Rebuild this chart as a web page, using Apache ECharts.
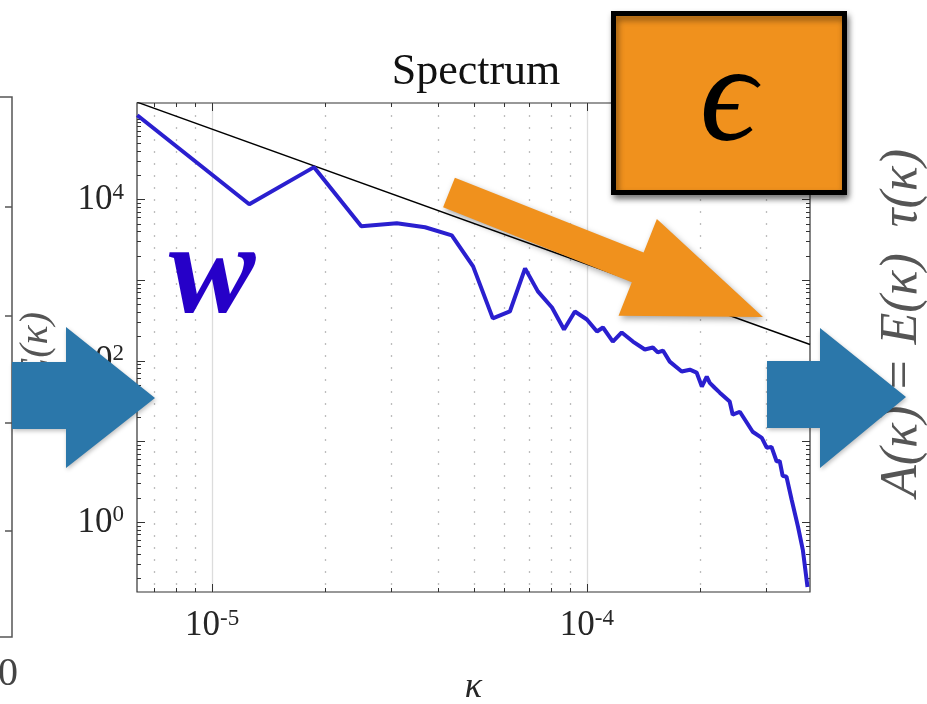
<!DOCTYPE html>
<html>
<head>
<meta charset="utf-8">
<title>Spectrum</title>
<script src="https://cdn.jsdelivr.net/npm/echarts@6/dist/echarts.min.js"></script>
<style>
  html, body { margin: 0; padding: 0; background: #fff; }
  #chart { width: 927px; height: 704px; }
</style>
</head>
<body>
<div id="chart"></div>
<script>
// wavenumber / energy
const kappa = [6.31e-6, 1.256e-5, 1.87e-5, 2.50e-5, 3.11e-5, 3.70e-5, 4.36e-5, 4.97e-5,
  5.61e-5, 6.23e-5, 6.84e-5, 7.40e-5, 8.07e-5, 8.69e-5, 9.29e-5, 1.0e-4, 1.064e-4,
  1.104e-4, 1.173e-4, 1.239e-4, 1.327e-4, 1.428e-4, 1.50e-4, 1.546e-4, 1.596e-4,
  1.664e-4, 1.791e-4, 1.883e-4, 1.963e-4, 2.027e-4, 2.089e-4, 2.128e-4, 2.193e-4,
  2.263e-4, 2.405e-4, 2.45e-4, 2.56e-4, 2.77e-4, 2.93e-4, 3.02e-4, 3.11e-4, 3.21e-4,
  3.27e-4, 3.33e-4, 3.41e-4, 3.52e-4, 3.66e-4, 3.77e-4, 3.88e-4];
const energy = [1.10e5, 8670, 2.5e4, 4620, 5030, 4490, 3570, 1470,
  333, 406, 1390, 720, 455, 243, 406, 323, 229,
  257, 172, 223, 172, 137, 145, 126, 133,
  97, 73, 77, 71, 47.5, 63, 53, 46,
  40, 31, 21.3, 23.2, 13.1, 11.0, 8.3, 8.5, 5.6,
  5.7, 3.73, 3.62, 1.88, 0.87, 0.45, 0.156];

// black reference slope (end points)
const refKappa = [6.3e-6, 3.94e-4];
const refEnergy = [1.6e5, 158];

// axis ranges and ticks
const xRange = [6.3e-6, 3.94e-4];
const yRange = [0.135, 1.56e5];
const xMajor = [1e-5, 1e-4];
const xMinor = [7e-6, 8e-6, 9e-6, 2e-5, 3e-5, 4e-5, 5e-5, 6e-5, 7e-5, 8e-5, 9e-5, 2e-4, 3e-4];
const yMajor = [1, 10, 100, 1e3, 1e4, 1e5];
const yMinor = [0.2, 0.3, 0.4, 0.5, 0.6, 0.7, 0.8, 0.9,
  2, 3, 4, 5, 6, 7, 8, 9, 20, 30, 40, 50, 60, 70, 80, 90,
  200, 300, 400, 500, 600, 700, 800, 900, 2e3, 3e3, 4e3, 5e3, 6e3, 7e3, 8e3, 9e3,
  2e4, 3e4, 4e4, 5e4, 6e4, 7e4, 8e4, 9e4];

const SERIF = '"Liberation Serif", "DejaVu Serif", serif';
const AXIS = '#333';

const chart = echarts.init(document.getElementById('chart'), null, {renderer: 'canvas'});

function powLabel(v, evenOnly) {
  const lg = Math.log10(v);
  const e = Math.round(lg);
  if (Math.abs(lg - e) > 1e-6) return '';
  if (evenOnly && e % 2 !== 0) return '';
  return '{b|10}{s|' + e + '}';
}

const richLabel = {
  b: {fontFamily: SERIF, fontSize: 35, color: '#262626', verticalAlign: 'bottom', lineHeight: 36},
  s: {fontFamily: SERIF, fontSize: 23, color: '#262626', verticalAlign: 'top', lineHeight: 22}
};

// x ticks: dotted grid + inward ticks on bottom and top
function xTickSeries(values, len, gridStyle) {
  return {
    type: 'custom',
    silent: true,
    clip: false,
    z: 1,
    data: values.map(v => [v, yRange[0]]),
    renderItem(params, api) {
      const cs = params.coordSys;
      const x = Math.round(api.coord([api.value(0), yRange[0]])[0]) + 0.5;
      const b = cs.y + cs.height;
      return {
        type: 'group',
        children: [
          {type: 'line', shape: {x1: x, y1: cs.y, x2: x, y2: b}, style: gridStyle},
          {type: 'line', shape: {x1: x, y1: b, x2: x, y2: b - len}, style: {stroke: AXIS, lineWidth: 1}},
          {type: 'line', shape: {x1: x, y1: cs.y, x2: x, y2: cs.y + len}, style: {stroke: AXIS, lineWidth: 1}}
        ]
      };
    }
  };
}

// y ticks: inward ticks on left and right
function yTickSeries(values, len) {
  return {
    type: 'custom',
    silent: true,
    clip: false,
    z: 1,
    data: values.map(v => [xRange[0], v]),
    renderItem(params, api) {
      const cs = params.coordSys;
      const y = Math.round(api.coord([xRange[0], api.value(1)])[1]) + 0.5;
      const r = cs.x + cs.width;
      return {
        type: 'group',
        children: [
          {type: 'line', shape: {x1: cs.x, y1: y, x2: cs.x + len, y2: y}, style: {stroke: AXIS, lineWidth: 1}},
          {type: 'line', shape: {x1: r, y1: y, x2: r - len, y2: y}, style: {stroke: AXIS, lineWidth: 1}}
        ]
      };
    }
  };
}

// orange arrow geometry (tail middle -> tip)
const tail = [449, 192.5], tip = [763, 317];
const len = Math.hypot(tip[0] - tail[0], tip[1] - tail[1]);
const d = [(tip[0] - tail[0]) / len, (tip[1] - tail[1]) / len];
const n = [-d[1], d[0]];
const sb = 203, hw = 16, HW = 52;
const base = [tail[0] + sb * d[0], tail[1] + sb * d[1]];
const orangePts = [
  [tail[0] - hw * n[0], tail[1] - hw * n[1]],
  [base[0] - hw * n[0], base[1] - hw * n[1]],
  [base[0] - HW * n[0], base[1] - HW * n[1]],
  tip,
  [base[0] + HW * n[0], base[1] + HW * n[1]],
  [base[0] + hw * n[0], base[1] + hw * n[1]],
  [tail[0] + hw * n[0], tail[1] + hw * n[1]]
];

const BLUE_ARROW = '#2b77aa';
const ORANGE = '#f0911d';

const option = {
  backgroundColor: '#fff',
  animation: false,
  title: {
    text: 'Spectrum',
    left: 471,
    top: 45,
    textAlign: 'center',
    textStyle: {fontFamily: SERIF, fontSize: 44, fontWeight: 'normal', color: '#111'}
  },
  grid: {
    left: 137, top: 103, width: 673, height: 489,
    outerBoundsMode: 'none',
    containLabel: false,
    show: true, borderColor: AXIS, borderWidth: 1.2, backgroundColor: 'transparent'
  },
  xAxis: {
    type: 'log',
    logBase: 10,
    min: xRange[0],
    max: xRange[1],
    name: 'κ',
    nameLocation: 'middle',
    nameGap: 78,
    nameTextStyle: {fontFamily: SERIF, fontStyle: 'italic', fontSize: 36, color: '#262626'},
    axisLine: {show: false},
    axisTick: {show: false},
    splitLine: {show: false},
    minorTick: {show: false},
    axisLabel: {
      margin: 15,
      formatter: v => powLabel(v, false),
      rich: richLabel
    }
  },
  yAxis: {
    type: 'log',
    logBase: 10,
    min: yRange[0],
    max: yRange[1],
    axisLine: {show: false},
    axisTick: {show: false},
    splitLine: {show: false},
    minorTick: {show: false},
    axisLabel: {
      margin: 13,
      formatter: v => powLabel(v, true),
      rich: richLabel
    }
  },
  series: [
    xTickSeries(xMinor, 4, {stroke: '#bdbdbd', lineWidth: 1.3, lineDash: [2, 10]}),
    xTickSeries(xMajor, 8, {stroke: '#dcdcdc', lineWidth: 1.3}),
    yTickSeries(yMinor, 4),
    yTickSeries(yMajor, 8),
    {
      name: 'reference',
      type: 'line',
      data: refKappa.map((k, i) => [k, refEnergy[i]]),
      symbol: 'none',
      z: 3,
      lineStyle: {color: '#000', width: 1.4}
    },
    {
      name: 'E',
      type: 'line',
      data: kappa.map((k, i) => [k, energy[i]]),
      symbol: 'none',
      z: 4,
      lineStyle: {color: '#2a1fcf', width: 4}
    }
  ],
  graphic: [
    // partial neighbour panel on the left
    {
      type: 'polyline', z: 1, silent: true,
      shape: {points: [[0, 97], [12, 97], [12, 637], [0, 637]]},
      style: {stroke: '#555', lineWidth: 1.5, fill: null}
    },
    ...[207, 316, 423, 531].map(y => ({
      type: 'line', z: 1, silent: true,
      shape: {x1: 12, y1: y, x2: 5, y2: y},
      style: {stroke: '#555', lineWidth: 1.5}
    })),
    {
      type: 'text', z: 1, silent: true, x: 36, y: 347, rotation: Math.PI / 2,
      style: {text: 'E(κ)', fontFamily: SERIF, fontStyle: 'italic', fontSize: 40, fill: '#555',
        align: 'center', verticalAlign: 'middle'}
    },
    {
      type: 'text', z: 1, silent: true, x: 8, y: 674,
      style: {text: '0', fontFamily: SERIF, fontSize: 40, fill: '#444', align: 'center', verticalAlign: 'middle'}
    },
    // right-hand formula
    {
      type: 'text', z: 1, silent: true, x: 902, y: 323, rotation: Math.PI / 2,
      style: {text: 'A(κ) = E(κ)  τ(κ)', fontFamily: SERIF, fontStyle: 'italic', fontSize: 52, fill: '#555',
        align: 'center', verticalAlign: 'middle'}
    },
    // w label
    {
      type: 'text', z: 50, silent: true, x: 212, y: 278,
      style: {text: 'w', fontFamily: SERIF, fontStyle: 'italic', fontWeight: 'bold', fontSize: 130,
        fill: '#2600c8', align: 'center', verticalAlign: 'middle'}
    },
    // blue arrows
    {
      type: 'polygon', z: 60, silent: true,
      shape: {points: [[12, 362], [66, 362], [66, 327], [155, 398], [66, 468], [66, 429], [12, 429]]},
      style: {fill: BLUE_ARROW, shadowBlur: 4, shadowColor: 'rgba(0,0,0,0.25)', shadowOffsetX: 1, shadowOffsetY: 2}
    },
    {
      type: 'polygon', z: 60, silent: true,
      shape: {points: [[767, 361], [820, 361], [820, 328], [906, 397], [820, 468], [820, 428], [767, 428]]},
      style: {fill: BLUE_ARROW, shadowBlur: 4, shadowColor: 'rgba(0,0,0,0.25)', shadowOffsetX: 1, shadowOffsetY: 2}
    },
    // orange arrow
    {
      type: 'polygon', z: 60, silent: true,
      shape: {points: orangePts},
      style: {fill: ORANGE, shadowBlur: 6, shadowColor: 'rgba(0,0,0,0.35)', shadowOffsetX: 2, shadowOffsetY: 3}
    },
    // epsilon box
    {
      type: 'rect', z: 70, silent: true,
      shape: {x: 613.5, y: 13.5, width: 231, height: 179},
      style: {fill: ORANGE, stroke: '#000', lineWidth: 5,
        shadowBlur: 6, shadowColor: 'rgba(0,0,0,0.45)', shadowOffsetX: 2, shadowOffsetY: 4}
    },
    {
      type: 'text', z: 71, silent: true, x: 728, y: 103,
      style: {text: 'ϵ', fontFamily: SERIF, fontStyle: 'italic', fontSize: 140, fill: '#000',
        align: 'center', verticalAlign: 'middle'}
    }
  ]
};

chart.setOption(option);
window.addEventListener('resize', () => chart.resize());
</script>
</body>
</html>
